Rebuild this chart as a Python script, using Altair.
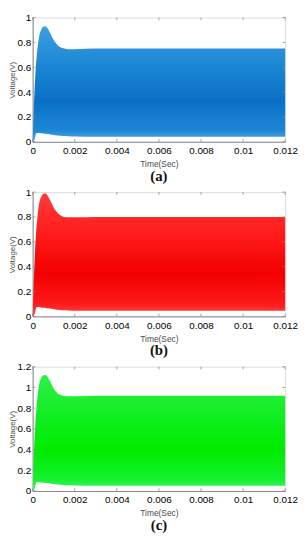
import altair as alt
import pandas as pd

# Time samples of the envelope (s)
t = [0, 0.00005, 0.0001, 0.00015, 0.0002, 0.0003, 0.0004, 0.0005, 0.0006, 0.0007,
     0.0008, 0.0009, 0.001, 0.0011, 0.0012, 0.0013, 0.0014, 0.0015, 0.0017, 0.002,
     0.003, 0.004, 0.005, 0.006, 0.007, 0.008, 0.009, 0.01, 0.011, 0.012]

# Panel (a) envelope
a_upper = [0, 0.25, 0.45, 0.6, 0.7, 0.84, 0.9, 0.925, 0.93, 0.915,
           0.885, 0.85, 0.82, 0.795, 0.775, 0.762, 0.755, 0.75, 0.745, 0.745,
           0.75, 0.75, 0.75, 0.75, 0.75, 0.75, 0.75, 0.75, 0.75, 0.75]
a_lower = [0, 0.01, 0.02, 0.06, 0.07, 0.07, 0.068, 0.066, 0.064, 0.062,
           0.06, 0.057, 0.055, 0.052, 0.05, 0.048, 0.047, 0.046, 0.045, 0.042,
           0.04, 0.04, 0.04, 0.04, 0.04, 0.04, 0.04, 0.04, 0.04, 0.04]

# Panel (b) envelope
b_upper = [0, 0.27, 0.48, 0.64, 0.75, 0.9, 0.96, 0.985, 0.99, 0.975,
           0.945, 0.91, 0.875, 0.85, 0.83, 0.815, 0.805, 0.8, 0.798, 0.798,
           0.8, 0.8, 0.8, 0.8, 0.8, 0.8, 0.8, 0.8, 0.8, 0.8]
b_lower = [0, 0.01, 0.02, 0.06, 0.075, 0.075, 0.072, 0.07, 0.068, 0.066,
           0.064, 0.061, 0.058, 0.055, 0.053, 0.051, 0.05, 0.049, 0.048, 0.046,
           0.045, 0.045, 0.045, 0.045, 0.045, 0.045, 0.045, 0.045, 0.045, 0.045]

# Panel (c) envelope
c_upper = [0, 0.3, 0.55, 0.72, 0.85, 1.02, 1.09, 1.115, 1.12, 1.105,
           1.07, 1.03, 0.99, 0.96, 0.94, 0.93, 0.922, 0.918, 0.915, 0.915,
           0.92, 0.92, 0.92, 0.92, 0.92, 0.92, 0.92, 0.92, 0.92, 0.92]
c_lower = [0, 0.01, 0.03, 0.07, 0.085, 0.085, 0.082, 0.08, 0.078, 0.076,
           0.074, 0.071, 0.068, 0.065, 0.062, 0.06, 0.058, 0.056, 0.055, 0.053,
           0.05, 0.05, 0.05, 0.05, 0.05, 0.05, 0.05, 0.05, 0.05, 0.05]

x_ticks = [0, 0.002, 0.004, 0.006, 0.008, 0.01, 0.012]
y_ticks_ab = [0, 0.2, 0.4, 0.6, 0.8, 1]
y_ticks_c = [0, 0.2, 0.4, 0.6, 0.8, 1, 1.2]

X_MAX = 0.012
W, H = 256, 126
AXIS_COLOR = "#8a8a8a"
LABEL_COLOR = "#4a4a4a"
FONT = "Liberation Sans"


def panel(upper, lower, ymax, yticks, stops, caption):
    df = pd.DataFrame({"t": t, "upper": upper, "lower": lower})
    xs = alt.Scale(domain=[0, X_MAX], nice=False, zero=False)
    ys = alt.Scale(domain=[0, ymax], nice=False)
    x_axis = alt.Axis(values=x_ticks, format="~g",
                      title="Time(Sec)", grid=False, tickSize=0,
                      labelOverlap=False, labelFlush=False,
                      labelPadding=4, titlePadding=4,
                      titleFontWeight="normal", titleFont=FONT,
                      titleFontSize=8.5, titleColor=LABEL_COLOR)
    y_axis = alt.Axis(values=yticks, format="~g", tickCount=len(yticks),
                      title="Voltage(V)", grid=False, tickSize=0,
                      labelOverlap=False, labelFlush=False,
                      labelPadding=2, titlePadding=0,
                      titleFontWeight="normal", titleFont=FONT,
                      titleFontSize=8, titleColor=LABEL_COLOR)
    area = alt.Chart(df).mark_area(
        interpolate="monotone",
        color=alt.Gradient(
            gradient="linear",
            stops=[alt.GradientStop(color=c, offset=o) for o, c in stops],
            x1=0, x2=0, y1=0, y2=1,
        ),
    ).encode(
        x=alt.X("t:Q", scale=xs, axis=x_axis, title="Time(Sec)"),
        y=alt.Y("upper:Q", scale=ys, axis=y_axis, title="Voltage(V)"),
        y2="lower:Q",
    )
    tl_y = ymax * 0.022
    tl_x = X_MAX * 0.011
    xt = pd.DataFrame({"x": x_ticks})
    yt = pd.DataFrame({"y": yticks})
    rule = dict(color=AXIS_COLOR, strokeWidth=0.8)
    top = alt.Chart(xt).mark_rule(**rule).encode(
        x=alt.X("x:Q", scale=xs, axis=x_axis, title="Time(Sec)"),
        y=alt.datum(ymax), y2=alt.datum(ymax - tl_y))
    bot = alt.Chart(xt).mark_rule(**rule).encode(
        x=alt.X("x:Q", scale=xs, axis=x_axis, title="Time(Sec)"),
        y=alt.datum(0), y2=alt.datum(tl_y))
    left = alt.Chart(yt).mark_rule(**rule).encode(
        y=alt.Y("y:Q", scale=ys, axis=y_axis, title="Voltage(V)"),
        x=alt.datum(0), x2=alt.datum(tl_x))
    right = alt.Chart(yt).mark_rule(**rule).encode(
        y=alt.Y("y:Q", scale=ys, axis=y_axis, title="Voltage(V)"),
        x=alt.datum(X_MAX), x2=alt.datum(X_MAX - tl_x))
    return alt.layer(area, top, bot, left, right).properties(
        width=W, height=H,
        title=alt.TitleParams(text=caption, orient="bottom", anchor="middle",
                              font="Liberation Serif", fontSize=15,
                              fontWeight="bold", color="#111", offset=1),
    )


pa = panel(a_upper, a_lower, 1, y_ticks_ab,
           [(0, "#3f9fe0"), (0.35, "#1a86d4"), (0.65, "#0a70c6"), (0.9, "#1c86d4"), (1, "#55aee6")],
           "(a)")
pb = panel(b_upper, b_lower, 1, y_ticks_ab,
           [(0, "#ff3a3a"), (0.35, "#ff1a1a"), (0.65, "#f20000"), (0.9, "#ff1a1a"), (1, "#ff4e4e")],
           "(b)")
pc = panel(c_upper, c_lower, 1.2, y_ticks_c,
           [(0, "#2ef04a"), (0.35, "#10ee20"), (0.65, "#00ec00"), (0.9, "#14f030"), (1, "#4cf270")],
           "(c)")

chart = alt.vconcat(pa, pb, pc, spacing=2).configure_view(
    stroke=AXIS_COLOR, strokeWidth=0.8
).configure_axis(
    domainColor=AXIS_COLOR, domainWidth=0.8, labelOverlap=False,
    labelFont=FONT, labelFontSize=8, labelColor=LABEL_COLOR,
).configure(padding=0)

chart.save("out.html", embed_options={"renderer": "svg", "actions": False})
